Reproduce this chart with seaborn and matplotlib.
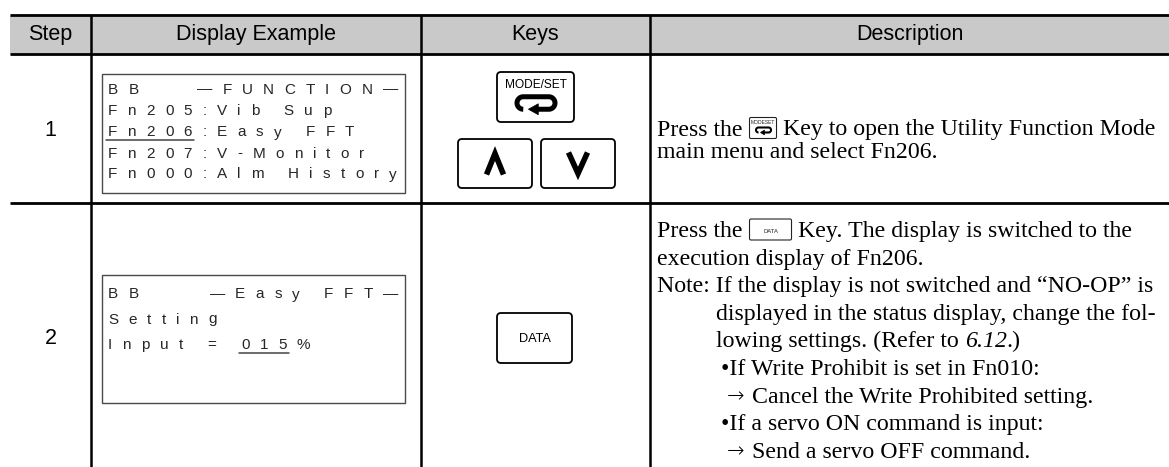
import numpy as np
import pandas as pd
import seaborn as sns
import matplotlib
matplotlib.use("Agg")
import matplotlib.pyplot as plt
from matplotlib.patches import Rectangle, FancyBboxPatch, Polygon
from matplotlib.font_manager import FontProperties, findfont, get_font

# ---------------- data ----------------
headers = ["Step", "Display Example", "Keys", "Description"]
steps = ["1", "2"]

display_1_title = "\u2014FUNCTION\u2014"
display_1 = ["BB", "Fn205:Vib Sup", "Fn206:Easy FFT", "Fn207:V-Monitor", "Fn000:Alm History"]
display_1_underline = "Fn206"

display_2_title = "\u2014Easy FFT\u2014"
display_2 = ["BB", "Setting", "Input = 015%"]
display_2_underline = "015"

keys_1 = ["MODE/SET", "up", "down"]
keys_2 = ["DATA"]

desc_1 = [
    ("base", [("Press the ", "r"), ("MODE/SET", "icon"), (" Key to open the Utility Function Mode", "r")]),
    ("base", [("main menu and select Fn206.", "r")]),
]
desc_2 = [
    ("base", [("Press the ", "r"), ("DATA", "icon"), (" Key. The display is switched to the", "r")]),
    ("base", [("execution display of Fn206.", "r")]),
    ("base", [("Note: If the display is not switched and \u201cNO-OP\u201d is", "r")]),
    ("note", [("displayed in the status display, change the fol-", "r")]),
    ("note", [("lowing settings. (Refer to ", "r"), ("6.12", "i"), (".)", "r")]),
    ("bullet", [("\u2022If Write Prohibit is set in Fn010:", "r")]),
    ("arrow", [("\u2192", "a"), (" Cancel the Write Prohibited setting.", "r")]),
    ("bullet", [("\u2022If a servo ON command is input:", "r")]),
    ("arrow", [("\u2192", "a"), (" Send a servo OFF command.", "r")]),
]

# ---------------- style ----------------
sns.set_theme(style="white")
plt.rcParams['font.family'] = ['Liberation Sans', 'DejaVu Sans']

W, H, DPI = 1169, 467, 100
fig = plt.figure(figsize=(W / DPI, H / DPI), dpi=DPI)
ax = fig.add_axes([0, 0, 1, 1])
ax.set_xlim(0, W)
ax.set_ylim(H, 0)
ax.axis("off")

fp_head = FontProperties(family=['Liberation Sans', 'DejaVu Sans'], size=15.5)
fp_lcd = FontProperties(family=['Liberation Sans', 'DejaVu Sans'], size=11.0)
fp_desc = FontProperties(family=['Liberation Serif', 'DejaVu Serif'], size=17.2)
fp_desc_i = FontProperties(family=['Liberation Serif', 'DejaVu Serif'], size=17.2, style='italic')
fp_arrow = FontProperties(family=['DejaVu Sans'], size=15.0, weight='light')


def adv_width(s, fp):
    font = get_font(findfont(fp))
    font.set_size(fp.get_size_in_points(), DPI)
    w = 0.0
    for ch in s:
        g = font.load_char(ord(ch))
        w += g.linearHoriAdvance / 65536.0
    return w


# ---------------- table frame ----------------
x_left, x_c1, x_c2, x_c3, x_right = 10, 91, 421, 650, W
y_top, y_head, y_row = 15, 54, 203
ax.add_patch(Rectangle((x_left, y_top), x_right - x_left, y_head - y_top,
                       facecolor="#c9c9c9", edgecolor="none", zorder=0))
for y in (y_top, y_head, y_row):
    ax.plot([x_left, x_right], [y, y], color="black", lw=2.0, solid_capstyle="butt", zorder=3)
for x in (x_c1, x_c2, x_c3):
    ax.plot([x, x], [y_top, H], color="black", lw=1.8, solid_capstyle="butt", zorder=3)

col_centers = [(x_left + x_c1) / 2, (x_c1 + x_c2) / 2, (x_c2 + x_c3) / 2, (x_c3 + x_right) / 2]
for cx, t in zip(col_centers, headers):
    ax.text(cx, 40, t, fontproperties=fp_head, ha="center", va="baseline", color="black")

step_baselines = [135.5, 344.5]
for s, yb in zip(steps, step_baselines):
    ax.text(col_centers[0], yb, s, fontproperties=fp_head, ha="center", va="baseline", color="black")

# ---------------- LCD displays ----------------
LCD_COLOR = "#262626"
TRACK = 10.2


def draw_tracked(x, y, s, fp=fp_lcd, track=TRACK):
    pos = []
    for ch in s:
        w = adv_width(ch, fp)
        if ch != " ":
            ax.text(x, y, ch, fontproperties=fp, ha="left", va="baseline", color=LCD_COLOR)
        pos.append((x, x + w))
        x += w + track
    return pos


def tracked_len(s, fp=fp_lcd, track=TRACK):
    return sum(adv_width(c, fp) for c in s) + track * (len(s) - 1)


def draw_display(box, lines, title, underline, baselines, ul_offset):
    x0, y0, x1, y1 = box
    ax.add_patch(Rectangle((x0, y0), x1 - x0, y1 - y0, facecolor="white",
                           edgecolor="#4a4a4a", lw=1.0, zorder=2))
    tx = 108
    for i, (ln, yb) in enumerate(zip(lines, baselines)):
        pos = draw_tracked(tx, yb, ln)
        idx = ln.find(underline)
        if idx >= 0:
            xa = pos[idx][0] - 2
            xb = pos[idx + len(underline) - 1][1] + 2
            ax.plot([xa, xb], [yb + ul_offset, yb + ul_offset], color="#444444", lw=1.1, zorder=4)
        if i == 0:
            tw = tracked_len(title)
            draw_tracked(398 - tw, yb, title)


draw_display((102, 74, 405, 193), display_1, display_1_title, display_1_underline,
             [93.5, 115, 136.5, 157.5, 178.5], 3.5)
draw_display((102, 275, 405, 403), display_2, display_2_title, display_2_underline,
             [298.5, 323.5, 349], 4.0)


# ---------------- keys ----------------
def key_box(x0, y0, x1, y1, lw=1.3, r=4):
    ax.add_patch(FancyBboxPatch((x0, y0), x1 - x0, y1 - y0,
                                boxstyle=f"round,pad=0,rounding_size={r}",
                                facecolor="white", edgecolor="black", lw=lw, zorder=4))


def draw_return(cx, cy, w, h, lw, head):
    r = h / 2
    xl, xr = cx - w / 2 + r, cx + w / 2 - r
    th1 = np.linspace(np.pi / 2, 3 * np.pi / 2, 30)
    th2 = np.linspace(3 * np.pi / 2, 5 * np.pi / 2, 30)
    xs = list(xl + r * np.cos(th1)) + list(xr + r * np.cos(th2)) + [cx + 0.02 * w]
    ys = list(cy + r * np.sin(th1)) + list(cy + r * np.sin(th2)) + [cy + r]
    ax.plot(xs, ys, color="black", lw=lw, solid_capstyle="butt", solid_joinstyle="round", zorder=6)
    tip = cx - 0.2 * w
    base = cx + 0.06 * w
    ax.add_patch(Polygon([(tip, cy + r), (base, cy + r - head), (base, cy + r + head)],
                         closed=True, facecolor="black", edgecolor="black", lw=0.5, zorder=6))


def chevron(cx, cy, w, h, up, lw):
    if up:
        xs = [cx - w / 2, cx, cx + w / 2]
        ys = [cy + h / 2, cy - h / 2, cy + h / 2]
    else:
        xs = [cx - w / 2, cx, cx + w / 2]
        ys = [cy - h / 2, cy + h / 2, cy - h / 2]
    ax.plot(xs, ys, color="black", lw=lw, solid_joinstyle="miter", solid_capstyle="butt", zorder=6)


# MODE/SET key
key_box(497, 72, 574, 122)
ax.text(535.5, 88.5, keys_1[0], fontproperties=FontProperties(family=['Liberation Sans', 'DejaVu Sans'], size=8.6),
        ha="center", va="baseline", color="black", zorder=7)
draw_return(536, 103, 38, 12.5, 3.6, 5.5)
# up / down keys
key_box(458, 139, 532, 188)
chevron(495, 164, 17, 21, True, 4.0)
key_box(541, 139, 615, 188)
chevron(578, 163, 19, 21, False, 4.0)
# DATA key
key_box(497, 313, 572, 363)
ax.text(534.5, 342, keys_2[0], fontproperties=FontProperties(family=['Liberation Sans', 'DejaVu Sans'], size=9.2),
        ha="center", va="baseline", color="black", zorder=7)

# ---------------- descriptions ----------------
indent = {"base": 657, "note": 716, "bullet": 721, "arrow": 727}


def small_icon(x, yb, label):
    if label == "DATA":
        w = 42
    else:
        w = 27
    h = 21
    ax.add_patch(FancyBboxPatch((x, yb - 18), w, h, boxstyle="round,pad=0,rounding_size=1.5",
                                facecolor="white", edgecolor="#222222", lw=0.8, zorder=4))
    if label == "DATA":
        ax.text(x + w / 2, yb - 5.5, "DATA", fontproperties=FontProperties(family=['Liberation Sans'], size=4.2),
                ha="center", va="center", color="#222222", zorder=5)
    else:
        ax.text(x + w / 2, yb - 13, "MODESET", fontproperties=FontProperties(family=['Liberation Sans'], size=3.6),
                ha="center", va="center", color="#222222", zorder=5)
        draw_return(x + w / 2 + 0.5, yb - 5.5, 15, 5.0, 1.5, 2.4)
    return w


def draw_desc(lines, baselines):
    for (kind, segs), yb in zip(lines, baselines):
        x = indent[kind]
        for text, style in segs:
            if style == "icon":
                x += small_icon(x + 1, yb, text) + 1
                continue
            if style == "a":
                ax.text(x, yb - 0.5, text, fontproperties=fp_arrow, ha="left", va="baseline",
                        color="black", zorder=5)
                x += adv_width(text, fp_arrow) + 2
                continue
            fp = fp_desc_i if style == "i" else fp_desc
            ax.text(x, yb, text, fontproperties=fp, ha="left", va="baseline", color="black", zorder=5)
            x += adv_width(text, fp)


draw_desc(desc_1, [135.5, 158])
draw_desc(desc_2, [237 + k * 27.6 for k in range(len(desc_2))])

fig.savefig("out.png", dpi=DPI, facecolor="white")
